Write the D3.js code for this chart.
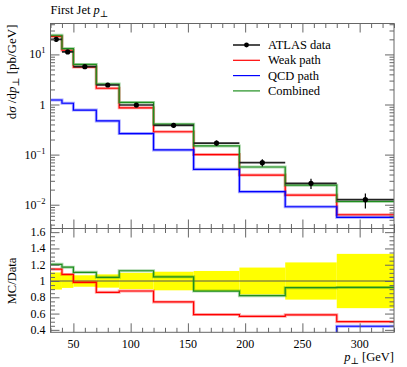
<!DOCTYPE html>
<html>
<head>
<meta charset="utf-8">
<script src="https://cdn.jsdelivr.net/npm/d3@7"></script>
<style>
  body { margin: 0; background: #fff; }
  text { font-family: "Liberation Serif", "DejaVu Serif", serif; fill: #000; }
</style>
</head>
<body>
<svg id="chart" width="407" height="367"></svg>
<script>
// bins in p_T [GeV]
var binEdges = [30, 40, 50, 70, 90, 120, 155, 195, 235, 280, 330];
// ATLAS data, dsigma/dpT [pb/GeV]
var dataVals = [20.0, 11.2, 5.69, 2.45, 0.977, 0.385, 0.170, 0.069, 0.0267, 0.0126];
var dataErr = [2.1, 0.95, 0.40, 0.20, 0.098, 0.044, 0.021, 0.0114, 0.0061, 0.0042];
// MC predictions
var weakVals = [22.9, 12.1, 5.60, 2.11, 0.857, 0.286, 0.100, 0.0391, 0.0156, 0.0063];
var qcdVals = [1.23, 1.06, 0.776, 0.47, 0.263, 0.124, 0.0509, 0.0182, 0.0091, 0.0056];
var combVals = [24.1, 13.1, 6.30, 2.56, 1.10, 0.405, 0.149, 0.0566, 0.0245, 0.0116];

var xMajor = [50, 100, 150, 200, 250, 300];
var logLabels = [
  { v: 0.01, base: "10", sup: "\u22122" },
  { v: 0.1, base: "10", sup: "\u22121" },
  { v: 1, base: "1", sup: "" },
  { v: 10, base: "10", sup: "1" }
];
var ratioMajor = [0.4, 0.6, 0.8, 1.0, 1.2, 1.4, 1.6];
var ratioLabels = ["0.4", "0.6", "0.8", "1", "1.2", "1.4", "1.6"];

var series = [
  { name: "Weak path", vals: weakVals, color: "#ff0000" },
  { name: "QCD path", vals: qcdVals, color: "#0000ff" },
  { name: "Combined", vals: combVals, color: "#1f8f1f" }
];

const pLeft = 50.5, pRight = 394, pTop = 23.5, pMid = 228.5, pBottom = 332.3;
const frameColor = "#666";

var svg = d3.select("#chart");

var x = d3.scaleLinear().domain([30, 330]).range([pLeft, pRight]);
var y = d3.scaleLog().domain([0.00335, 41.4]).range([pMid, pTop]);
var r = d3.scaleLinear().domain([0.37, 1.645]).range([pBottom, pMid]);

var defs = svg.append("defs");
defs.append("clipPath").attr("id", "clip-main")
  .append("rect").attr("x", pLeft).attr("y", pTop).attr("width", pRight - pLeft).attr("height", pMid - pTop);
defs.append("clipPath").attr("id", "clip-ratio")
  .append("rect").attr("x", pLeft).attr("y", pMid).attr("width", pRight - pLeft).attr("height", pBottom - pMid);

function stepPoints(vals) {
  var pts = vals.map(function (v, i) { return [binEdges[i], v]; });
  pts.push([binEdges[binEdges.length - 1], vals[vals.length - 1]]);
  return pts;
}

// ---------- ratio panel ----------
var ratioG = svg.append("g").attr("clip-path", "url(#clip-ratio)");

ratioG.selectAll(".band")
  .data(dataVals)
  .enter()
  .append("rect")
  .attr("class", "band")
  .attr("x", function (d, i) { return x(binEdges[i]); })
  .attr("width", function (d, i) { return x(binEdges[i + 1]) - x(binEdges[i]); })
  .attr("y", function (d, i) { return r(1 + dataErr[i] / d); })
  .attr("height", function (d, i) { return r(1 - dataErr[i] / d) - r(1 + dataErr[i] / d); })
  .attr("fill", "#ffff00");

ratioG.append("line")
  .attr("x1", x(30)).attr("x2", x(330))
  .attr("y1", r(1)).attr("y2", r(1))
  .attr("stroke", "#555").attr("stroke-width", 1);

var ratioLine = d3.line()
  .x(function (d) { return x(d[0]); })
  .y(function (d) { return r(d[1]); })
  .curve(d3.curveStepAfter);

series.forEach(function (s) {
  var ratios = s.vals.map(function (v, i) { return v / dataVals[i]; });
  ratioG.append("path")
    .attr("d", ratioLine(stepPoints(ratios)))
    .attr("fill", "none").attr("stroke", s.color)
    .attr("stroke-opacity", 0.35).attr("stroke-width", 3);
  ratioG.append("path")
    .attr("d", ratioLine(stepPoints(ratios)))
    .attr("fill", "none").attr("stroke", s.color)
    .attr("stroke-width", 1.2);
});

// ---------- main panel ----------
var mainG = svg.append("g").attr("clip-path", "url(#clip-main)");

var mainLine = d3.line()
  .x(function (d) { return x(d[0]); })
  .y(function (d) { return y(d[1]); })
  .curve(d3.curveStepAfter);

series.forEach(function (s) {
  mainG.append("path")
    .attr("d", mainLine(stepPoints(s.vals)))
    .attr("fill", "none").attr("stroke", s.color)
    .attr("stroke-opacity", 0.35).attr("stroke-width", 3);
  mainG.append("path")
    .attr("d", mainLine(stepPoints(s.vals)))
    .attr("fill", "none").attr("stroke", s.color)
    .attr("stroke-width", 1.2);
});

// data: x-bars, error bars, points
var dataG = mainG.append("g");
dataG.selectAll(".xbar")
  .data(dataVals)
  .enter()
  .append("line")
  .attr("x1", function (d, i) { return x(binEdges[i]); })
  .attr("x2", function (d, i) { return x(binEdges[i + 1]); })
  .attr("y1", function (d) { return y(d); })
  .attr("y2", function (d) { return y(d); })
  .attr("stroke", "#222").attr("stroke-width", 1.7);
dataG.selectAll(".ebar")
  .data(dataVals)
  .enter()
  .append("line")
  .attr("x1", function (d, i) { return x((binEdges[i] + binEdges[i + 1]) / 2); })
  .attr("x2", function (d, i) { return x((binEdges[i] + binEdges[i + 1]) / 2); })
  .attr("y1", function (d, i) { return y(d + dataErr[i]); })
  .attr("y2", function (d, i) { return y(d - dataErr[i]); })
  .attr("stroke", "#000").attr("stroke-width", 1.2);
dataG.selectAll("circle")
  .data(dataVals)
  .enter()
  .append("circle")
  .attr("cx", function (d, i) { return x((binEdges[i] + binEdges[i + 1]) / 2); })
  .attr("cy", function (d) { return y(d); })
  .attr("r", 2.6)
  .attr("fill", "#000");

// ---------- frames and ticks ----------
function tickGroup(axis, tx, ty) {
  var g = svg.append("g").attr("transform", "translate(" + tx + "," + ty + ")").call(axis);
  g.select(".domain").remove();
  g.selectAll(".tick line").attr("stroke", frameColor);
  return g;
}

var xMinor = d3.range(30, 331, 10).filter(function (v) { return xMajor.indexOf(v) < 0; });
// inward ticks on each horizontal edge
[[pTop, d3.axisTop], [pMid, d3.axisBottom], [pMid, d3.axisTop], [pBottom, d3.axisBottom]].forEach(function (p) {
  tickGroup(p[1](x).tickValues(xMajor).tickSize(-9).tickFormat(""), 0, p[0]);
  tickGroup(p[1](x).tickValues(xMinor).tickSize(-4.5).tickFormat(""), 0, p[0]);
});

var logMinor = [];
[-3, -2, -1, 0, 1].forEach(function (k) {
  d3.range(2, 10).forEach(function (m) {
    var v = m * Math.pow(10, k);
    if (v > y.domain()[0] && v < y.domain()[1]) logMinor.push(v);
  });
});
var logMajor = logLabels.map(function (d) { return d.v; });
tickGroup(d3.axisLeft(y).tickValues(logMajor).tickSize(-9).tickFormat(""), pLeft, 0);
tickGroup(d3.axisLeft(y).tickValues(logMinor).tickSize(-4.5).tickFormat(""), pLeft, 0);
tickGroup(d3.axisRight(y).tickValues(logMajor).tickSize(-9).tickFormat(""), pRight, 0);
tickGroup(d3.axisRight(y).tickValues(logMinor).tickSize(-4.5).tickFormat(""), pRight, 0);

var rMinor = d3.range(0.4, 1.65, 0.05).filter(function (v) {
  return ratioMajor.every(function (m) { return Math.abs(m - v) > 1e-6; });
});
tickGroup(d3.axisLeft(r).tickValues(ratioMajor).tickSize(-9).tickFormat(""), pLeft, 0);
tickGroup(d3.axisLeft(r).tickValues(rMinor).tickSize(-4.5).tickFormat(""), pLeft, 0);
tickGroup(d3.axisRight(r).tickValues(ratioMajor).tickSize(-9).tickFormat(""), pRight, 0);
tickGroup(d3.axisRight(r).tickValues(rMinor).tickSize(-4.5).tickFormat(""), pRight, 0);

svg.append("rect").attr("x", pLeft).attr("y", pTop).attr("width", pRight - pLeft).attr("height", pMid - pTop)
  .attr("fill", "none").attr("stroke", frameColor).attr("stroke-width", 1);
svg.append("rect").attr("x", pLeft).attr("y", pMid).attr("width", pRight - pLeft).attr("height", pBottom - pMid)
  .attr("fill", "none").attr("stroke", frameColor).attr("stroke-width", 1);

// ---------- tick labels ----------
svg.selectAll(".xlab")
  .data(xMajor)
  .enter()
  .append("text")
  .attr("x", function (d) { return x(d); })
  .attr("y", pBottom + 16)
  .attr("text-anchor", "middle")
  .attr("font-size", 12)
  .text(function (d) { return d; });

var ylab = svg.selectAll(".ylab")
  .data(logLabels)
  .enter()
  .append("text")
  .attr("x", pLeft - 5)
  .attr("y", function (d) { return y(d.v) + 4; })
  .attr("text-anchor", "end")
  .attr("font-size", 12);
ylab.append("tspan").text(function (d) { return d.base; });
ylab.append("tspan").attr("dy", -5).attr("font-size", 8.5).text(function (d) { return d.sup; });

svg.selectAll(".rlab")
  .data(ratioMajor)
  .enter()
  .append("text")
  .attr("x", pLeft - 5)
  .attr("y", function (d) { return r(d) + 4; })
  .attr("text-anchor", "end")
  .attr("font-size", 12)
  .text(function (d, i) { return ratioLabels[i]; });

// ---------- titles ----------
var title = svg.append("text").attr("x", 50.5).attr("y", 14).attr("font-size", 12.5);
title.append("tspan").text("First Jet ");
title.append("tspan").attr("font-style", "italic").text("p");
title.append("tspan").attr("dy", 2.5).attr("font-size", 9).text("\u22a5");

var yTitle = svg.append("text")
  .attr("transform", "translate(16," + (pTop + 1) + ") rotate(-90)")
  .attr("text-anchor", "end")
  .attr("font-size", 13);
yTitle.append("tspan").text("d");
yTitle.append("tspan").attr("font-style", "italic").text("\u03c3");
yTitle.append("tspan").text(" /d");
yTitle.append("tspan").attr("font-style", "italic").text("p");
yTitle.append("tspan").attr("dy", 2.5).attr("font-size", 9.5).text("\u22a5");
yTitle.append("tspan").attr("dy", -2.5).text(" [pb/GeV]");

svg.append("text")
  .attr("transform", "translate(16," + r(1) + ") rotate(-90)")
  .attr("text-anchor", "middle")
  .attr("font-size", 12.5)
  .text("MC/Data");

var xTitle = svg.append("text")
  .attr("x", pRight).attr("y", 361)
  .attr("text-anchor", "end")
  .attr("font-size", 12.5);
xTitle.append("tspan").attr("font-style", "italic").text("p");
xTitle.append("tspan").attr("dy", 2.5).attr("font-size", 9).text("\u22a5");
xTitle.append("tspan").attr("dy", -2.5).text(" [GeV]");

// ---------- legend ----------
var legendRows = [{ name: "ATLAS data", color: "#000", isData: true }].concat(series);
var leg = svg.append("g");
legendRows.forEach(function (d, i) {
  var yy = 45 + i * 15.3;
  leg.append("line")
    .attr("x1", 233).attr("x2", 260).attr("y1", yy).attr("y2", yy)
    .attr("stroke", d.color).attr("stroke-width", d.isData ? 1.4 : 1.2);
  if (d.isData) {
    leg.append("circle").attr("cx", 246.5).attr("cy", yy).attr("r", 2.4).attr("fill", "#000");
  }
  leg.append("text")
    .attr("x", 268).attr("y", yy + 4)
    .attr("font-size", 12.5)
    .text(d.name);
});
</script>
</body>
</html>
